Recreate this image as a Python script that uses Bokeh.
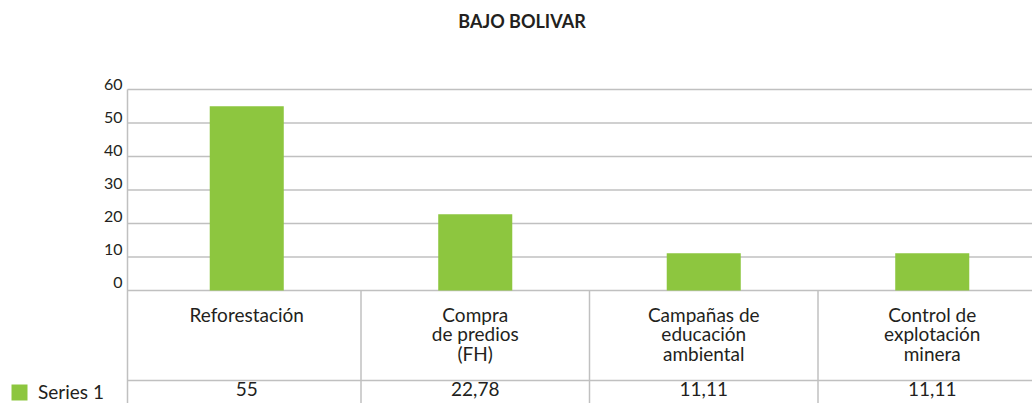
from bokeh.plotting import figure
from bokeh.models import FixedTicker, LinearAxis, Range1d, Legend, LegendItem
from bokeh.core.properties import value
from bokeh.embed import file_html
from bokeh.resources import INLINE

# ---- data ----
chart_title = "BAJO BOLIVAR"
series_name = "Series 1"
categories = ["Reforestación", "Compra\nde predios\n(FH)",
              "Campañas de\neducación\nambiental", "Control de\nexplotación\nminera"]
values = [55, 22.78, 11.11, 11.11]
y_ticks = [0, 10, 20, 30, 40, 50, 60]

value_labels = [("%g" % v).replace(".", ",") for v in values]

# ---- layout (figure pixels) ----
W, H = 1032, 403
AXIS_PX = 127         # left edge of the plot/table area
X0_PX = 132           # pixel of category-axis origin
COL_PX = 228.5        # width of one category column
ZERO_PX = 290         # y pixel (from top) of value 0
TOP_PX = 89           # y pixel of value 60
ppu = (ZERO_PX - TOP_PX) / 60.0

def xpx(px):
    return (px - X0_PX) / COL_PX

def ypx(px):
    return (ZERO_PX - px) / ppu

x_start, x_end = xpx(0), xpx(W)
y_start, y_end = ypx(H), ypx(0)
x_axis = xpx(AXIS_PX)

# tick-label scale (labels sit a little above their gridlines)
L0, L60 = 281.5, 84.2
lppu = (L0 - L60) / 60.0

FONT = value("Lato")
TXT = "#231F20"
LINE = "#C0C0C0"
GREEN = "#8DC63F"
TFS = "19px"

p = figure(width=W, height=H, x_range=Range1d(x_start, x_end), y_range=Range1d(y_start, y_end),
           output_backend="svg", toolbar_location=None,
           x_axis_type=None, y_axis_type=None,
           min_border_left=0, min_border_right=0, min_border_top=0, min_border_bottom=0)
p.outline_line_color = None
p.background_fill_color = "white"
p.border_fill_color = "white"

p.extra_y_ranges = {"lbl": Range1d(-(H - L0) / lppu, L0 / lppu)}
yaxis = LinearAxis(y_range_name="lbl", ticker=FixedTicker(ticks=y_ticks), fixed_location=x_axis,
                   axis_line_color=None, major_tick_line_color=None, minor_tick_line_color=None,
                   major_tick_in=0, major_tick_out=0, major_label_standoff=5,
                   major_label_text_font="Lato", major_label_text_font_size="16px",
                   major_label_text_color=TXT)
p.add_layout(yaxis, "left")

# gridlines
p.segment(x0=[x_axis] * len(y_ticks), y0=y_ticks, x1=[x_end] * len(y_ticks), y1=y_ticks,
          line_color=LINE, line_width=1.5)

# bars
n = len(categories)
xs = [i + 0.5 for i in range(n)]
bars = p.vbar(x=xs, top=values, width=0.324, fill_color=GREEN, line_color=None)

# data table lines
row_line_y = ypx(380)
p.segment(x0=[x_axis], y0=[60], x1=[x_axis], y1=[y_start], line_color=LINE, line_width=1.5)
p.segment(x0=list(range(1, n)), y0=[0] * (n - 1), x1=list(range(1, n)), y1=[y_start] * (n - 1),
          line_color=LINE, line_width=1.5)
p.segment(x0=[x_axis], y0=[row_line_y], x1=[x_end], y1=[row_line_y], line_color=LINE, line_width=1.5)

# category labels
p.text(x=xs, y=[ypx(302)] * n, text=categories, text_align="center",
       text_baseline="top", text_font=FONT, text_font_size=TFS, text_line_height=0.85,
       text_color=TXT)
# values row
p.text(x=xs, y=[ypx(381)] * n, text=value_labels, text_align="center",
       text_baseline="top", text_font=FONT, text_font_size=TFS, text_color=TXT)

# title
p.text(x=[xpx(521.5)], y=[ypx(20)], text=[chart_title], text_align="center",
       text_baseline="middle", text_font=FONT, text_font_size="18px", text_font_style="bold",
       text_color=TXT)

# legend (series key at left of the values row)
legend = Legend(items=[LegendItem(label=series_name, renderers=[bars])],
                location=(9, 0), padding=0, margin=0, spacing=0,
                glyph_width=20, glyph_height=20, label_height=20, label_standoff=9,
                label_text_font="Lato", label_text_font_size=TFS, label_text_color=TXT,
                border_line_color=None, background_fill_alpha=0)
p.add_layout(legend)

open("out.html", "w").write(file_html(p, INLINE))
